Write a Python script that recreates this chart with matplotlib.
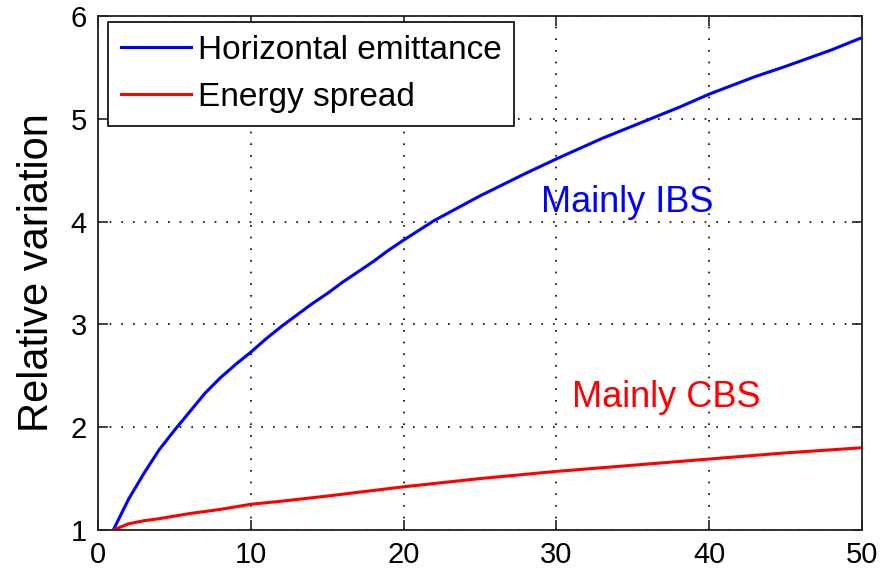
import matplotlib.pyplot as plt

plt.rcParams['font.family'] = ['Liberation Sans', 'DejaVu Sans']

# horizontal emittance growth
x_emit = [1, 2, 3, 4, 5, 6, 7, 8, 9, 10, 11, 12, 13, 14, 15, 16, 17, 18, 19, 20, 22, 25, 28,
          30, 33, 35, 38, 40, 43, 45, 48, 50]
y_emit = [1.0, 1.30, 1.55, 1.78, 1.97, 2.15, 2.33, 2.48, 2.61, 2.73, 2.86, 2.98, 3.09, 3.20,
          3.30, 3.41, 3.51, 3.61, 3.72, 3.82, 4.01, 4.25, 4.47, 4.61, 4.81, 4.93, 5.11, 5.24,
          5.41, 5.51, 5.67, 5.79]

# energy spread growth
x_spread = [1, 2, 3, 4, 6, 8, 10, 12, 15, 20, 25, 30, 35, 40, 45, 50]
y_spread = [1.0, 1.06, 1.09, 1.11, 1.16, 1.20, 1.25, 1.28, 1.33, 1.42, 1.50, 1.57, 1.63,
            1.69, 1.75, 1.80]

x_ticks = [0, 10, 20, 30, 40, 50]
y_ticks = [1, 2, 3, 4, 5, 6]

fig = plt.figure(figsize=(8.8, 5.76), dpi=100)
ax = fig.add_axes([0.1114, 0.0799, 0.8681, 0.8923])

ax.plot(x_emit, y_emit, color='#0000ff', lw=2.2, label='Horizontal emittance')
ax.plot(x_spread, y_spread, color='#ff0000', lw=2.2, label='Energy spread')

ax.text(29.0, 4.09, 'Mainly IBS', color='#0000ff', fontsize=26)
ax.text(31.0, 2.20, 'Mainly CBS', color='#ff0000', fontsize=26)

ax.set_xlim(0, 50)
ax.set_ylim(1, 6)
ax.set_xticks(x_ticks)
ax.set_yticks(y_ticks)
ax.tick_params(direction='in', length=7, width=1.2, labelsize=21, top=True, right=True,
               pad=8, colors='#222222', labelcolor='black')
ax.grid(True, color='black', linestyle=(0, (1, 6)), linewidth=1.2)
for s in ax.spines.values():
    s.set_linewidth(1.3)
    s.set_color('#222222')

ax.set_ylabel('Relative variation', fontsize=30, labelpad=10)

leg = ax.legend(loc='upper left', bbox_to_anchor=(0.013, 0.988), borderaxespad=0,
                fontsize=24, fancybox=False, framealpha=1, edgecolor='black',
                handlelength=2.1, handletextpad=0.22, labelspacing=0.48,
                borderpad=0.38)
leg.get_frame().set_linewidth(1.2)

plt.savefig('out.png', dpi=100)
